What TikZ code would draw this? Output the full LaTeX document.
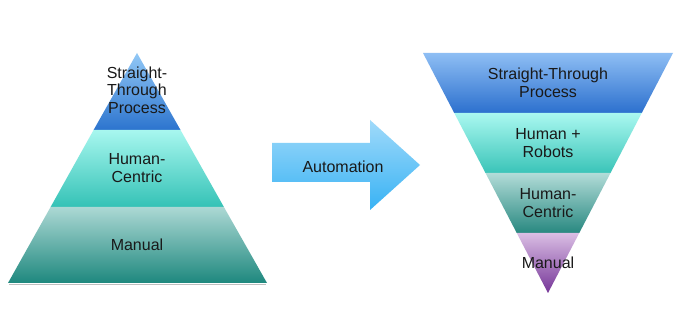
\documentclass[tikz,border=0pt]{standalone}
\usepackage{fontspec}
\setmainfont{Liberation Sans}
\begin{document}
\begin{tikzpicture}[x=1pt,y=-1pt,
  lbl/.style={align=center,font=\fontsize{16}{17.5}\selectfont,inner sep=0pt,text=black!90}]
\useasboundingbox (0,0) rectangle (680,320);
\fill[white] (0,0) rectangle (680,320);
% ---------- left pyramid ----------
\coordinate (LA) at (137,53);
\coordinate (LBL) at (8,283);
\coordinate (LBR) at (267,283);
% band boundaries at y=130, 207
\shade[top color={rgb,255:red,146;green,200;blue,246}, bottom color={rgb,255:red,44;green,116;blue,206}]
  (LA) -- (93.6,130) -- (180.5,130) -- cycle;
\shade[top color={rgb,255:red,168;green,247;blue,239}, bottom color={rgb,255:red,52;green,194;blue,182}]
  (93.6,130) -- (180.5,130) -- (223.9,207) -- (50.6,207) -- cycle;
\shade[top color={rgb,255:red,172;green,216;blue,212}, bottom color={rgb,255:red,30;green,136;blue,126}]
  (50.6,207) -- (223.9,207) -- (LBR) -- (LBL) -- cycle;
\draw[black!25,line width=1pt] (9,284.5) -- (266,284.5);
\node[lbl] (l1) at (137,90) {Straight-\\Through\\Process};
\node[lbl] (l2) at (137,168) {Human-\\Centric};
\node[lbl] (l3) at (137,245) {Manual};
% ---------- arrow ----------
\shade[top color={rgb,255:red,160;green,218;blue,250}, bottom color={rgb,255:red,56;green,178;blue,244}]
  (272,143) -- (370,143) -- (370,120) -- (420,165) -- (370,210) -- (370,182) -- (272,182) -- cycle;
\node[lbl] (auto) at (343,167) {Automation};
% ---------- right inverted pyramid ----------
\coordinate (RTL) at (423,53);
\coordinate (RTR) at (673,53);
\coordinate (RT) at (548,293);
% boundaries at y=113,173,233 ; half width = 125*(293-y)/240
\shade[top color={rgb,255:red,142;green,190;blue,244}, bottom color={rgb,255:red,44;green,112;blue,206}]
  (RTL) -- (RTR) -- (641.75,113) -- (454.25,113) -- cycle;
\shade[top color={rgb,255:red,170;green,248;blue,240}, bottom color={rgb,255:red,58;green,196;blue,184}]
  (454.25,113) -- (641.75,113) -- (610.5,173) -- (485.5,173) -- cycle;
\shade[top color={rgb,255:red,178;green,220;blue,216}, bottom color={rgb,255:red,40;green,136;blue,128}]
  (485.5,173) -- (610.5,173) -- (579.25,233) -- (516.75,233) -- cycle;
\shade[top color={rgb,255:red,218;green,190;blue,228}, bottom color={rgb,255:red,118;green,54;blue,152}]
  (516.75,233) -- (579.25,233) -- (RT) -- cycle;
\node[lbl] (r1) at (548,83) {Straight-Through\\Process};
\node[lbl] (r2) at (548,143) {Human +\\Robots};
\node[lbl] (r3) at (548,203) {Human-\\Centric};
\node[lbl] (r4) at (548,263) {Manual};
\end{tikzpicture}
\end{document}
